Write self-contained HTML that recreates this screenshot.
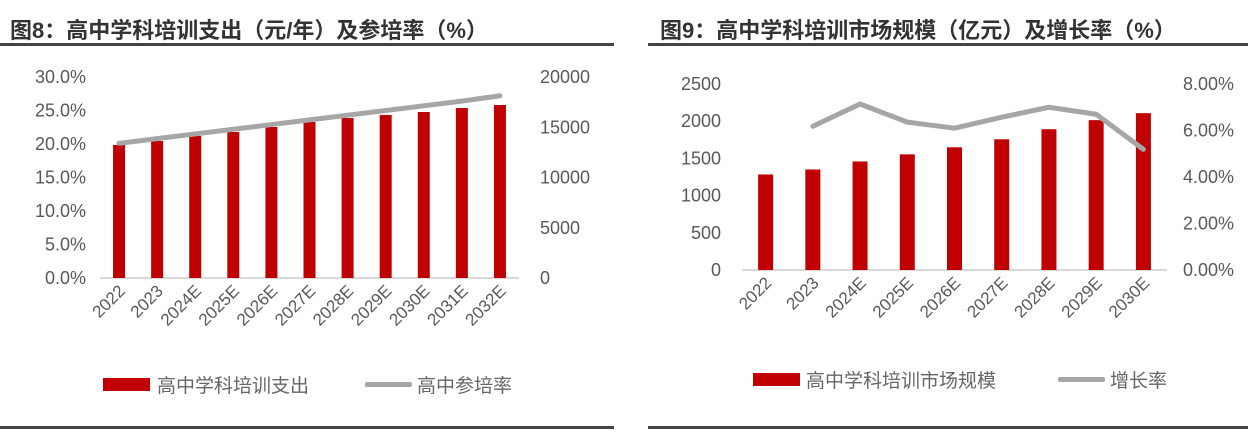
<!DOCTYPE html>
<html><head><meta charset="utf-8"><style>
body{margin:0;background:#fff;width:1248px;height:434px;overflow:hidden}
svg{display:block;font-family:"Liberation Sans","Noto Sans CJK SC",sans-serif}
</style></head><body>
<svg id="s" width="1248" height="434">
<text x="10" y="38" font-size="22" font-weight="bold" fill="#333">图8：高中学科培训支出（元/年）及参培率（%）</text>
<rect x="0" y="43" width="614" height="3" fill="#444"/>
<rect x="0" y="426" width="614" height="3" fill="#444"/>
<text x="660" y="38" font-size="22" font-weight="bold" fill="#333">图9：高中学科培训市场规模（亿元）及增长率（%）</text>
<rect x="648" y="43" width="600" height="3" fill="#444"/>
<rect x="648" y="426" width="600" height="3" fill="#444"/>
<g id="c1"></g>
<g id="c2"></g>
<g>
<rect x="103" y="378" width="47" height="13" fill="#C00000"/>
<text x="157" y="392" font-size="19" fill="#666">高中学科培训支出</text>
<rect x="365" y="382" width="47" height="5" rx="2" fill="#A6A6A6"/>
<text x="417" y="392" font-size="19" fill="#666">高中参培率</text>
</g>
<g>
<rect x="753" y="373" width="47" height="13" fill="#C00000"/>
<text x="806" y="387" font-size="19" fill="#666">高中学科培训市场规模</text>
<rect x="1058" y="377" width="47" height="5" rx="2" fill="#A6A6A6"/>
<text x="1110" y="387" font-size="19" fill="#666">增长率</text>
</g>
</svg>
<script>
const cats1=["2022","2023","2024E","2025E","2026E","2027E","2028E","2029E","2030E","2031E","2032E"];
const spend1=[13234,13632,14129,14527,15025,15522,15920,16219,16517,16915,17214];
const rate1=[20.1,20.8,21.5,22.2,22.9,23.6,24.3,25.0,25.7,26.4,27.2];
const leftTicks1=["0.0%","5.0%","10.0%","15.0%","20.0%","25.0%","30.0%"];
const rightTicks1=["0","5000","10000","15000","20000"];
const cats2=["2022","2023","2024E","2025E","2026E","2027E","2028E","2029E","2030E"];
const size2=[1284,1351,1459,1554,1649,1757,1892,2014,2108];
const growth2=[null,6.18,7.14,6.36,6.10,6.57,7.00,6.70,5.19];
const leftTicks2=["0","500","1000","1500","2000","2500"];
const rightTicks2=["0.00%","2.00%","4.00%","6.00%","8.00%"];
const NS="http://www.w3.org/2000/svg";
function mk(p,t,a){const e=document.createElementNS(NS,t);for(const k in a)e.setAttribute(k,a[k]);p.appendChild(e);return e;}
function draw(g,o){
 const n=o.cats.length,step=(o.x1-o.x0)/n;
 const xc=i=>o.x0+step*(i+0.5);
 const yB=v=>o.base-(v/o.bMax)*(o.base-o.top);
 const yLn=v=>o.base-(v/o.lnMax)*(o.base-o.top);
 const ax=mk(g,'line',{x1:o.x0,x2:o.x1,y1:o.base,y2:o.base,stroke:'#D9D9D9','stroke-width':2});
 
 
 o.lt.forEach((t,i)=>{const y=o.base-i*(o.base-o.top)/(o.lt.length-1);const e=mk(g,'text',{x:o.lx,y:y+6,'font-size':18,fill:'#595959','text-anchor':'end'});e.textContent=t;
  
  });
 o.rt.forEach((t,i)=>{const y=o.base-i*(o.base-o.top)/(o.rt.length-1);const e=mk(g,'text',{x:o.rx,y:y+6,'font-size':18,fill:'#595959'});e.textContent=t;
  
  });
 o.bars.forEach((v,i)=>{const y=yB(v);const r=mk(g,'rect',{x:xc(i)-o.bw/2,y:y,width:o.bw,height:o.base-y,fill:'#C00000'});
  
  });
 let d='';o.line.forEach((v,i)=>{if(v==null)return;d+=(d?'L':'M')+xc(i)+','+yLn(v);});
 const p=mk(g,'path',{d:d,fill:'none',stroke:'#A6A6A6','stroke-width':5,'stroke-linejoin':'round','stroke-linecap':'round'});
 
 
 o.cats.forEach((c,i)=>{const x=xc(i)+7,y=o.base+14;const e=mk(g,'text',{x:x,y:y,'font-size':17,fill:'#595959','text-anchor':'end',transform:`rotate(-45 ${x} ${y})`});e.textContent=c;
  
  });
}
draw(document.getElementById('c1'),{cats:cats1,x0:100,x1:519,base:278,top:77,bMax:20000,lnMax:30,bars:spend1,line:rate1,lt:leftTicks1,rt:rightTicks1,lx:86,rx:540,bw:12});
draw(document.getElementById('c2'),{cats:cats2,x0:742,x1:1167,base:270,top:84,bMax:2500,lnMax:8,bars:size2,line:growth2,lt:leftTicks2,rt:rightTicks2,lx:721,rx:1183,bw:15});
</script>
</body></html>
